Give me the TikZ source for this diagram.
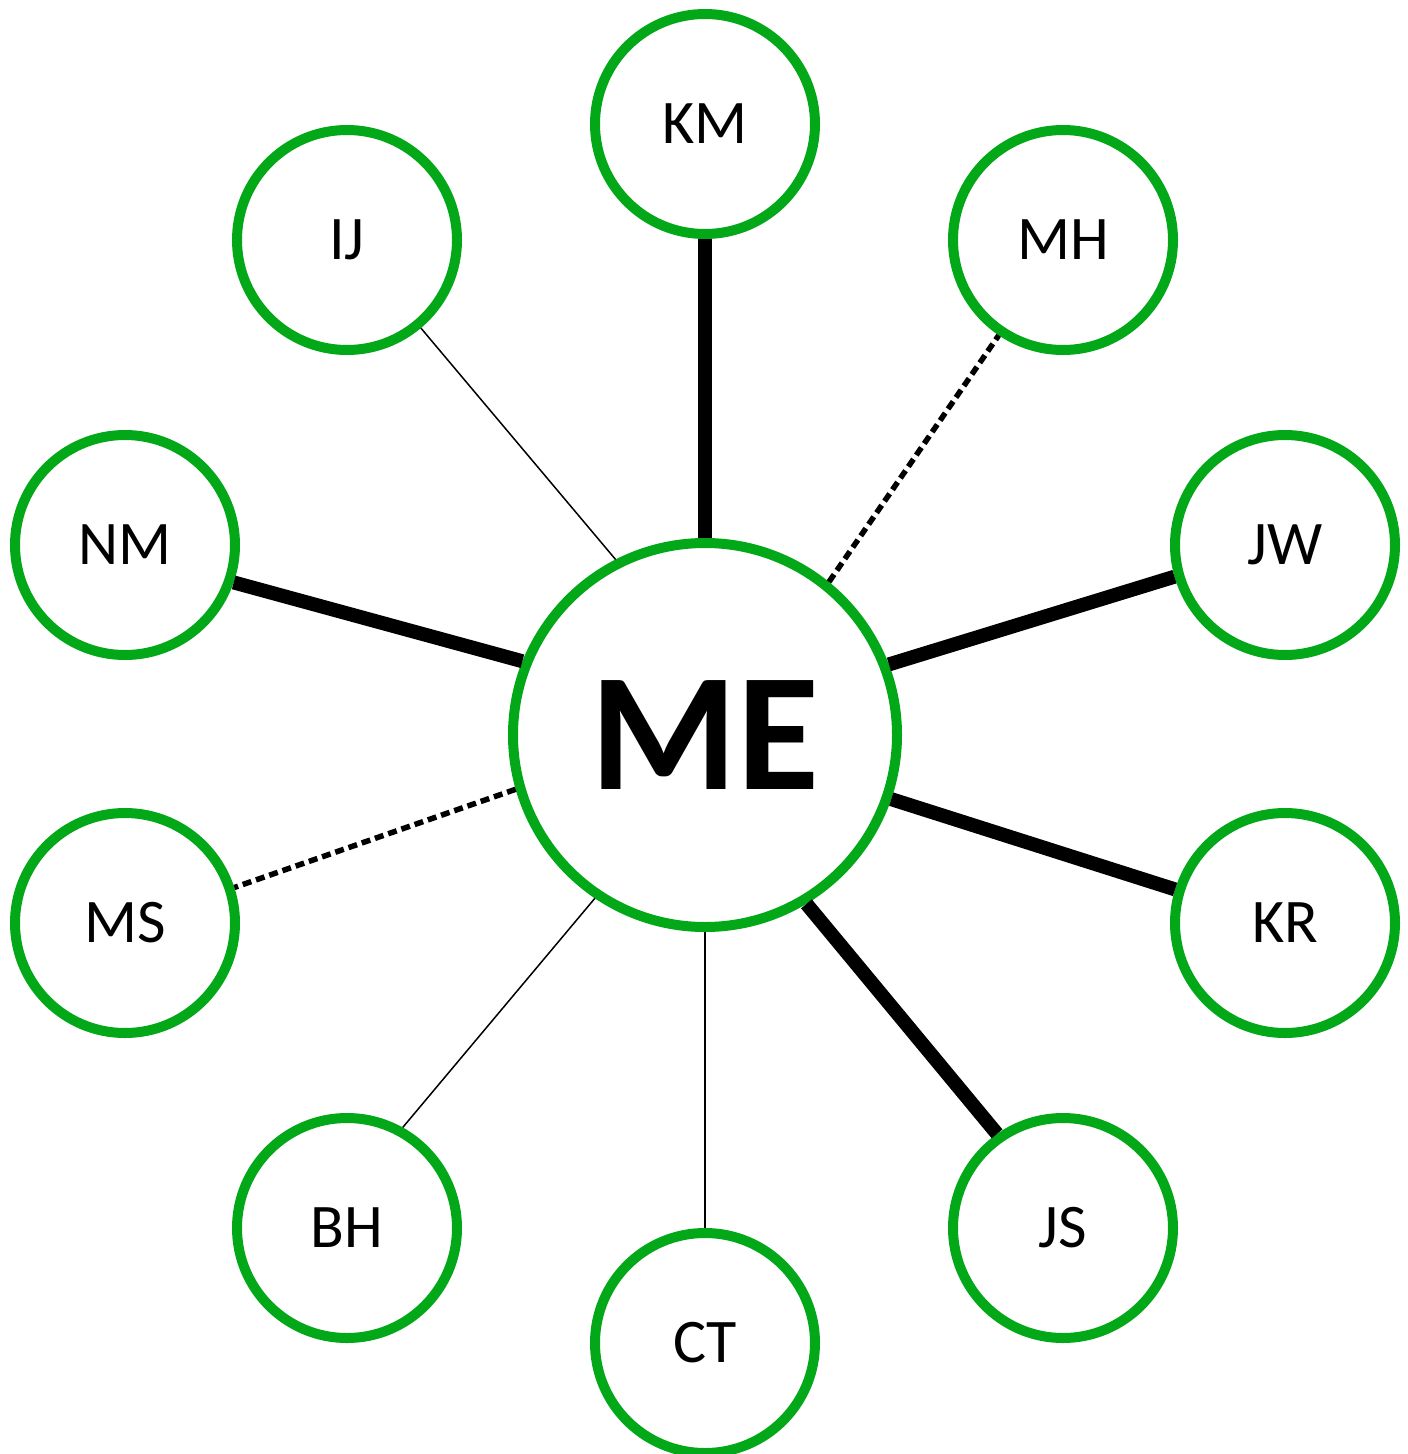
\documentclass[tikz,border=0pt]{standalone}
\usepackage{fontspec}
\setmainfont{Carlito}
\usepackage{tikz}

\definecolor{ringgreen}{RGB}{2,168,24}

\tikzset{
    person/.style={circle, draw=ringgreen, line width=10pt, fill=white, minimum size=220pt, inner sep=0pt, font=\fontsize{62}{70}\selectfont},
    self/.style={circle, draw=ringgreen, line width=10pt, fill=white, minimum size=384pt, inner sep=0pt, font=\fontsize{168}{180}\selectfont\bfseries},
    strong/.style={line width=14pt},
    weak/.style={line width=1.5pt},
    shaky/.style={line width=5.5pt, dash pattern=on 9pt off 5pt}
}

\begin{document}
\begin{tikzpicture}[x=1pt, y=-1pt]
        \useasboundingbox (0,0) rectangle (1408,1454);

        % Central node
        \node[self] (me) at (705,735) {ME};

        % Ring of people
        \node[person] (km) at (705,124) {KM};
        \node[person] (mh) at (1063,240) {MH};
        \node[person] (jw) at (1285,545) {JW};
        \node[person] (kr) at (1285,923) {KR};
        \node[person] (js) at (1063,1228) {JS};
        \node[person] (ct) at (705,1343) {CT};
        \node[person] (bh) at (347,1228) {BH};
        \node[person] (ms) at (125,923) {MS};
        \node[person] (nm) at (125,545) {NM};
        \node[person] (ij) at (347,240) {IJ};

        % Strong ties
        \draw[strong] (me.90) -- (km.-90);
        \draw[strong] (me.21.4) -- (jw.196.9);
        \draw[strong] (me.-19.6) -- (kr.163.3);
        \draw[strong] (me.-59.3) -- (js.125);
        \draw[strong] (me.158.5) -- (nm.-19);

        % Weak ties
        \draw[weak] (me.-90) -- (ct.90);
        \draw[weak] (me.236.2) -- (bh.61.7);
        \draw[weak] (me.117.6) -- (ij.-50.6);

        % Uncertain ties
        \draw[shaky] (me.51.1) -- (mh.236.5);
        \draw[shaky] (me.196.2) -- (ms.18.9);
    \end{tikzpicture}
\end{document}
